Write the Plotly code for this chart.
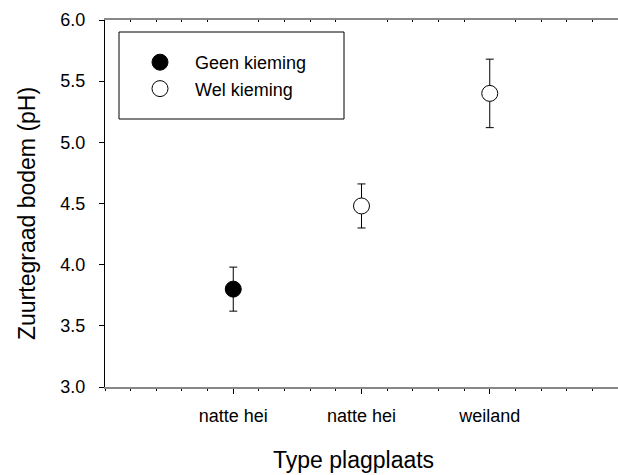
import numpy as np
import plotly.graph_objects as go

# Data
categories = ["natte hei", "natte hei", "weiland"]
cat_pos = [1, 2, 3]
geen_x = [1]
geen_y = [3.80]
geen_err = [0.18]
wel_x = [2, 3]
wel_y = [4.48, 5.40]
wel_err = [0.18, 0.28]
x_title = "Type plagplaats"
y_title = "Zuurtegraad bodem (pH)"

FONT = "Liberation Sans, Arial, Helvetica, sans-serif"
W, H = 618, 475
L, R, T, B = 105, 0, 20, 88
PW, PH = W - L - R, H - T - B


def px_x(p):
    return (p - L) / PW


def px_y(p):
    return 1 - (p - T) / PH


fig = go.Figure()
fig.add_trace(go.Scatter(
    x=geen_x, y=geen_y, mode="markers", name="Geen kieming",
    marker=dict(symbol="circle", size=16, color="black", line=dict(color="black", width=1)),
    error_y=dict(type="data", array=geen_err, visible=True, color="black", thickness=1, width=4),
))
fig.add_trace(go.Scatter(
    x=wel_x, y=wel_y, mode="markers", name="Wel kieming",
    marker=dict(symbol="circle", size=16, color="white", line=dict(color="black", width=1)),
    error_y=dict(type="data", array=wel_err, visible=True, color="black", thickness=1, width=4),
))
# dummy trace to activate the top axis
fig.add_trace(go.Scatter(x=[], y=[], xaxis="x2", showlegend=False, hoverinfo="skip"))

minor_top = [v for v in np.round(np.arange(0.2, 4.0, 0.2), 1) if abs(v - round(v)) > 1e-6]

fig.update_layout(
    width=W, height=H,
    margin=dict(l=L, r=R, t=T, b=B, pad=0, autoexpand=False),
    paper_bgcolor="white", plot_bgcolor="white",
    font=dict(family=FONT, color="black"),
    showlegend=True,
    legend=dict(
        x=px_x(125), y=px_y(44),
        xanchor="left", yanchor="top",
        bgcolor="rgba(0,0,0,0)", borderwidth=0,
        itemwidth=60,
        font=dict(size=18, family=FONT),
    ),
    xaxis=dict(
        range=[0, 4], tickmode="array", tickvals=cat_pos, ticktext=categories,
        showgrid=False, zeroline=False, automargin=False,
        showline=True, linecolor="#888888", linewidth=1.5,
        ticks="outside", ticklen=5, tickcolor="black", tickwidth=1,
        tickfont=dict(size=18), ticklabelstandoff=7,
        minor=dict(dtick=0.2, tick0=0, ticks="outside", ticklen=2, tickcolor="black", tickwidth=1, showgrid=False),
    ),
    xaxis2=dict(
        range=[0, 4], overlaying="x", side="top", anchor="y", automargin=False,
        tickmode="array", tickvals=minor_top, showticklabels=False,
        showgrid=False, zeroline=False,
        showline=True, linecolor="#888888", linewidth=1.5,
        ticks="inside", ticklen=2, tickcolor="black", tickwidth=1,
    ),
    yaxis=dict(
        range=[3, 6], tick0=3, dtick=0.5, tickformat=".1f",
        showgrid=False, zeroline=False, automargin=False,
        showline=True, linecolor="black", linewidth=1,
        ticks="outside", ticklen=5, tickcolor="black", tickwidth=1,
        tickfont=dict(size=18), ticklabelstandoff=10,
    ),
    annotations=[
        dict(text=x_title, xref="paper", yref="paper", x=px_x(353), y=px_y(460),
             xanchor="center", yanchor="middle", showarrow=False, font=dict(size=23)),
        dict(text=y_title, xref="paper", yref="paper", x=px_x(27), y=px_y(214),
             xanchor="center", yanchor="middle", showarrow=False, textangle=-90, font=dict(size=23)),
    ],
    shapes=[dict(
        type="rect", xref="paper", yref="paper",
        x0=px_x(119), x1=px_x(344), y0=px_y(119), y1=px_y(32),
        line=dict(color="black", width=1), fillcolor="rgba(0,0,0,0)", layer="above",
    )],
)

fig.write_html(
    "out.html",
    config={"displayModeBar": False},
    post_script="document.body.style.margin='0';document.body.style.overflow='hidden';",
)
